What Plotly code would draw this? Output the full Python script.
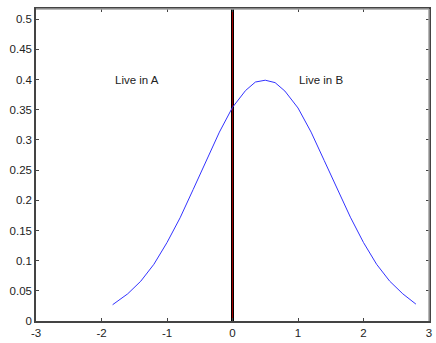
import plotly.graph_objects as go

# curve points
x_vals = [-1.83, -1.6, -1.4, -1.2, -1.0, -0.8, -0.6, -0.4, -0.2, 0.0,
          0.2, 0.35, 0.5, 0.65, 0.8, 1.0, 1.2, 1.4, 1.6, 1.8,
          2.0, 2.2, 2.4, 2.6, 2.8]
y_vals = [0.027, 0.045, 0.066, 0.094, 0.130, 0.171, 0.218, 0.266, 0.313, 0.354,
          0.382, 0.396, 0.399, 0.395, 0.381, 0.353, 0.313, 0.266, 0.218, 0.172,
          0.130, 0.094, 0.066, 0.045, 0.028]

x_ticks = [-3, -2, -1, 0, 1, 2, 3]
x_labels = ["-3", "-2", "-1", "0", "1", "2", "3"]
y_ticks = [0, 0.05, 0.1, 0.15, 0.2, 0.25, 0.3, 0.35, 0.4, 0.45, 0.5]
y_labels = ["0", "0.05", "0.1", "0.15", "0.2", "0.25", "0.3", "0.35", "0.4", "0.45", "0.5"]

fig = go.Figure()

# divider at x = 0: black with red core
fig.add_trace(go.Scatter(x=[0, 0], y=[0, 0.517], mode="lines",
                         line=dict(color="black", width=3), showlegend=False))
fig.add_trace(go.Scatter(x=[0, 0], y=[0, 0.517], mode="lines",
                         line=dict(color="#a00000", width=1), showlegend=False))

fig.add_trace(go.Scatter(x=x_vals, y=y_vals, mode="lines",
                         line=dict(color="#3333ff", width=1), showlegend=False))

fig.add_annotation(x=-1.82, y=0.4, text="Live in A", showarrow=False,
                   xanchor="left", yanchor="middle")
fig.add_annotation(x=0.98, y=0.4, text="Live in B", showarrow=False,
                   xanchor="left", yanchor="middle")

# lighter top/right border like the original
fig.add_shape(type="line", xref="paper", yref="paper", x0=0, x1=1, y0=1, y1=1,
              line=dict(color="#a0a0a0", width=1.5), layer="above")
fig.add_shape(type="line", xref="paper", yref="paper", x0=1, x1=1, y0=0, y1=1,
              line=dict(color="#a0a0a0", width=1.5), layer="above")

fig.update_layout(
    width=436, height=343,
    margin=dict(l=36, r=4, t=9, b=20),
    paper_bgcolor="white", plot_bgcolor="white",
    font=dict(family="Liberation Sans, Arial", size=11.5, color="#222222"),
    xaxis=dict(range=[-3, 3], tickvals=x_ticks, ticktext=x_labels,
               ticks="inside", ticklen=3,
               showline=True, linecolor="#444444", linewidth=1.5, mirror="ticks",
               showgrid=False, zeroline=False, tickcolor="#444444"),
    yaxis=dict(range=[0, 0.517], tickvals=y_ticks, ticktext=y_labels,
               ticks="inside", ticklen=3,
               showline=True, linecolor="#444444", linewidth=1.5, mirror="ticks",
               showgrid=False, zeroline=False, tickcolor="#444444"),
)

# drop the page margin so the figure sits at the window corner
fig.write_html("out.html", config={"displayModeBar": False},
               post_script="document.body.style.margin='0';")
